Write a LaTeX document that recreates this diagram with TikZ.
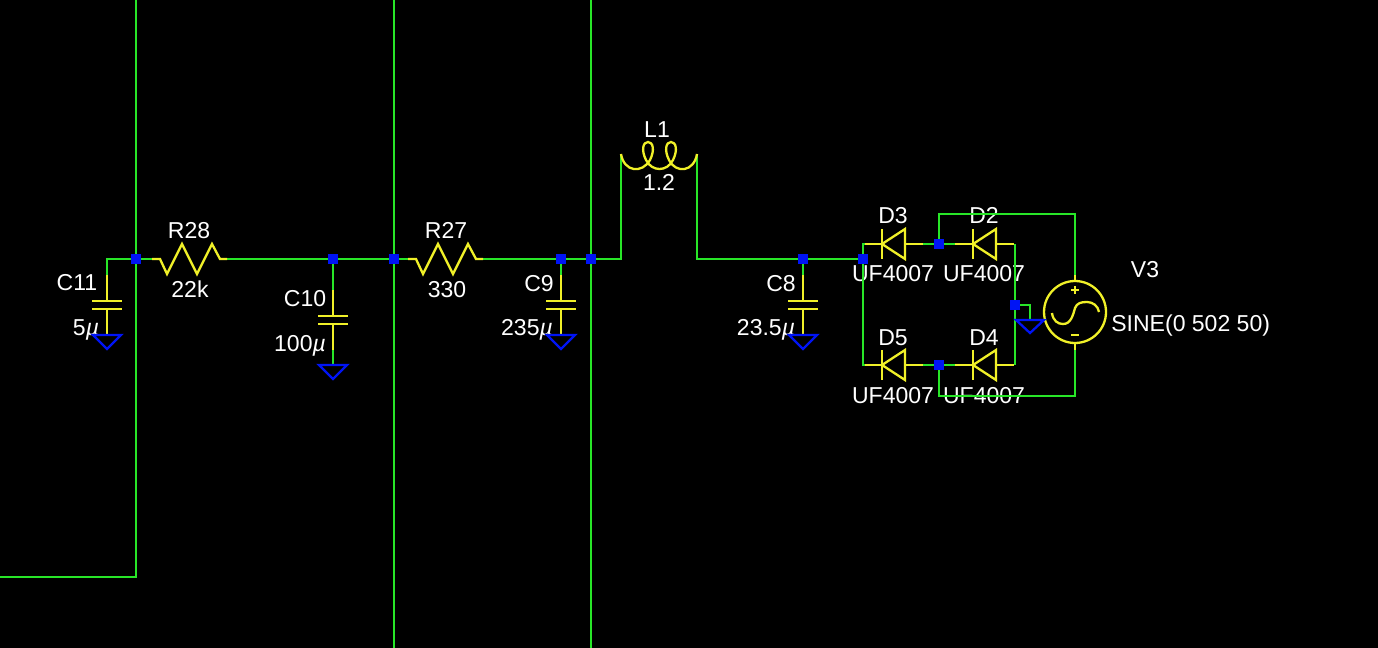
\documentclass[tikz,border=0pt]{standalone}
\usepackage{fontspec}
\setmainfont{Liberation Sans}
\usepackage{xcolor}
\definecolor{wiregreen}{RGB}{40,230,40}
\definecolor{partyellow}{RGB}{240,240,40}
\definecolor{dotblue}{RGB}{0,20,245}
\newcommand{\mumark}{\textit{µ}}
\tikzset{
    wire/.style={wiregreen, line width=0.046cm},
    part/.style={partyellow, line width=0.046cm},
    gnd/.style={dotblue, line width=0.046cm},
    junct/.style={fill=dotblue, minimum size=0.2cm, inner sep=0pt},
    lbl/.style={white, inner sep=0pt, font=\fontsize{13.1pt}{15pt}\selectfont, anchor=base}
}
\begin{document}
\begin{tikzpicture}[x=0.02cm, y=-0.02cm]
    \fill[black] (0,0) rectangle (1378,648);
    \useasboundingbox (0,0) rectangle (1378,648);

    % Textos
    \node[lbl] (tC11) at (77,291) {C11};
    \node[lbl] (vC11) at (86,336) {5\mumark};
    \node[lbl] (tR28) at (189,239) {R28};
    \node[lbl] (vR28) at (190,297) {22k};
    \node[lbl] (tC10) at (305,306) {C10};
    \node[lbl] (vC10) at (300,351) {100\mumark};
    \node[lbl] (tR27) at (446,239) {R27};
    \node[lbl] (vR27) at (447,297) {330};
    \node[lbl] (tC9) at (539,292) {C9};
    \node[lbl] (vC9) at (527,336) {235\mumark};
    \node[lbl] (tL1) at (657,138) {L1};
    \node[lbl] (vL1) at (659,191) {1.2};
    \node[lbl] (tC8) at (781,292) {C8};
    \node[lbl] (vC8) at (766,336) {23.5\mumark};
    \foreach \name/\x/\y in {D3/893/224, D2/984/224, D5/893/345, D4/984/345}
        \node[lbl] (t\name) at (\x,\y) {\name};
    \foreach \name/\x/\y in {D3/893/282, D2/984/282, D5/893/403, D4/984/403}
        \node[lbl] (v\name) at (\x,\y) {UF4007};
    \node[lbl] (tV3) at (1145,277) {V3};
    \node[lbl, anchor=base west] (vV3) at (1111,332) {SINE(0 502 50)};

    % Puntos de union
    \foreach \name/\x/\y in {nA/136/259, nB/333/259, nC/394/259, nD/561/259, nE/591/259, nF/803/259,
        nG/863/259, nH/939/244, nI/1015/305, nJ/939/365}
        \coordinate (\name) at (\x,\y);

    % Cables largos
    \coordinate (topA) at (136,0);
    \coordinate (endA) at (0,577);
    \coordinate (topC) at (394,0);
    \coordinate (botC) at (394,648);
    \coordinate (topE) at (591,0);
    \coordinate (botE) at (591,648);
    \draw[wire] (topA) -- (nA) -- (136,577) -- (endA);
    \draw[wire] (topC) -- (botC);
    \draw[wire] (topE) -- (botE);

    % Cable principal
    \coordinate (coilL) at (621,154);
    \coordinate (coilR) at (697,154);
    \coordinate (r28L) at (152,259);
    \coordinate (r28R) at (227,259);
    \coordinate (r27L) at (408,259);
    \coordinate (r27R) at (483,259);
    \draw[wire] (107,275) -- (107,259) -- (nA) -- (r28L);
    \draw[wire] (r28R) -- (nB) -- (nC) -- (r27L);
    \draw[wire] (r27R) -- (nD) -- (nE) -- (621,259) -- (coilL);
    \draw[wire] (coilR) -- (697,259) -- (nF) -- (nG);

    % Resistencias
    \foreach \a/\b/\s in {r28L/r28R/0, r27L/r27R/256}
        \draw[part] (\a) -- (160+\s,259) -- (167+\s,274) -- (182+\s,244) -- (197+\s,274)
            -- (212+\s,244) -- (220+\s,259) -- (\b);

    % Bobina
    \draw[part] (coilL) .. controls (624,172) and (642,174) .. (650,160)
        .. controls (655,150) and (653,142) .. (648,142)
        .. controls (643,142) and (641,150) .. (646,160)
        .. controls (652,172) and (667,172) .. (673,160)
        .. controls (678,150) and (676,142) .. (671,142)
        .. controls (666,142) and (664,150) .. (669,160)
        .. controls (676,174) and (694,172) .. (coilR);

    % Condensadores con tierra
    \foreach \name/\x/\t in {C11/107/0, C10/333/15, C9/561/0, C8/803/0} {
        \coordinate (\name a) at (\x,275+\t);
        \coordinate (\name b) at (\x,335+\t);
        \draw[wire] (\x,259) -- (\name a);
        \draw[part] (\name a) -- (\x,301+\t);
        \draw[part] (\x,309+\t) -- (\name b);
        \draw[part] (\x-15,301+\t) -- (\x+15,301+\t);
        \draw[part] (\x-15,309+\t) -- (\x+15,309+\t);
        \draw[wire] (\name b) -- (\x,335+2*\t);
        \draw[gnd] (\x-14,335+2*\t) -- (\x+14,335+2*\t) -- (\x,349+2*\t) -- cycle;
    }

    % Puente de diodos
    \coordinate (corTL) at (863,244);
    \coordinate (corBL) at (863,365);
    \coordinate (corTR) at (1015,244);
    \coordinate (corBR) at (1015,365);
    \draw[wire] (nG) -- (corTL) -- (882,244);
    \draw[wire] (nG) -- (corBL) -- (882,365);
    \draw[wire] (nH) -- (923,244);
    \draw[wire] (nH) -- (955,244);
    \draw[wire] (nJ) -- (923,365);
    \draw[wire] (nJ) -- (955,365);
    \draw[wire] (corTR) -- (nI) -- (corBR);
    \foreach \x/\y/\l/\r in {882/244/865/923, 973/244/955/1014, 882/365/865/923, 973/365/955/1014} {
        \draw[part] (\l,\y) -- (\x,\y);
        \draw[part] (\x+23,\y) -- (\r,\y);
        \draw[part] (\x,\y-15) -- (\x,\y+15);
        \draw[part] (\x,\y) -- (\x+23,\y-15) -- (\x+23,\y+15) -- cycle;
    }

    % Fuente
    \node[circle, draw=partyellow, line width=0.046cm, minimum size=1.24cm, inner sep=0pt] (V3) at (1075,312) {};
    \draw[wire] (nH) -- (939,214) -- (1075,214) -- (1075,275);
    \draw[wire] (nJ) -- (939,396) -- (1075,396) -- (1075,350);
    \draw[part] (1075,275) -- (V3.north);
    \draw[part] (V3.south) -- (1075,350);
    \draw[part] (1071,290) -- (1079,290);
    \draw[part] (1075,286) -- (1075,294);
    \draw[part] (1071,335) -- (1079,335);
    \draw[part] (1052,313) .. controls (1053,321) and (1058,324) .. (1063,324)
        .. controls (1071,324) and (1073,315) .. (1075,308)
        .. controls (1077,303) and (1081,302) .. (1087,302)
        .. controls (1093,302) and (1098,306) .. (1099,312);

    % Tierra del puente
    \coordinate (gndB) at (1030,320);
    \draw[wire] (nI) -- (1030,305) -- (gndB);
    \draw[gnd] (1016,320) -- (1044,320) -- (1030,333) -- cycle;

    % Cuadrados azules
    \foreach \name in {nA,nB,nC,nD,nE,nF,nG,nH,nI,nJ}
        \node[junct] (dot\name) at (\name) {};
\end{tikzpicture}
\end{document}
